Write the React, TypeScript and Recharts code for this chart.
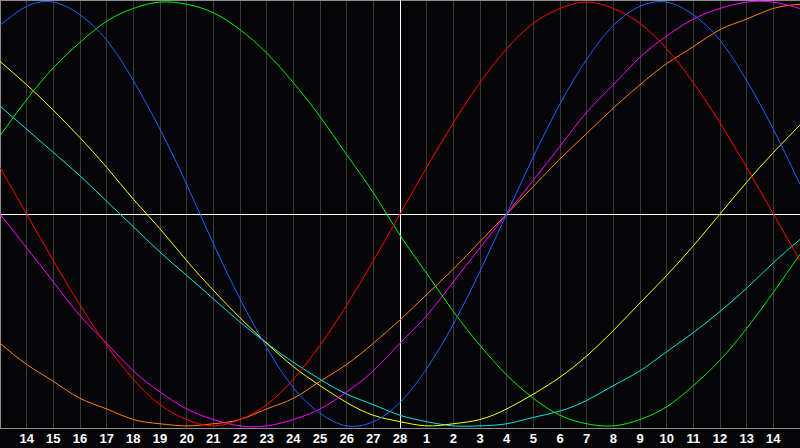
import { LineChart, Line, XAxis, YAxis, CartesianGrid, ReferenceLine } from 'recharts'

// one entry per day column, the first and last sit on the chart edges
const dayLabels = [
  '13', '14', '15', '16', '17', '18', '19', '20', '21', '22', '23', '24', '25', '26', '27', '28',
  '1', '2', '3', '4', '5', '6', '7', '8', '9', '10', '11', '12', '13', '14', '15',
]

// cycle values, -1..1
const physical = [
  0.89, 0.98, 1.0, 0.94, 0.82, 0.63, 0.4, 0.14, -0.14, -0.4, -0.63, -0.82, -0.94, -1.0, -0.98, -0.89,
  -0.73, -0.52, -0.27, 0, 0.27, 0.52, 0.73, 0.89, 0.98, 1.0, 0.94, 0.82, 0.63, 0.4, 0.14,
]
const emotional = [
  0.22, 0, -0.22, -0.43, -0.62, -0.78, -0.9, -0.97, -1.0, -0.97, -0.9, -0.78, -0.62, -0.43, -0.22, 0,
  0.22, 0.43, 0.62, 0.78, 0.9, 0.97, 1.0, 0.97, 0.9, 0.78, 0.62, 0.43, 0.22, 0, -0.22,
]
const intellectual = [
  0.37, 0.54, 0.69, 0.81, 0.91, 0.97, 1.0, 0.99, 0.95, 0.87, 0.76, 0.62, 0.46, 0.28, 0.1, -0.1,
  -0.28, -0.46, -0.62, -0.76, -0.87, -0.95, -0.99, -1.0, -0.97, -0.91, -0.81, -0.69, -0.54, -0.37, -0.19,
]
const intuitive = [
  0, -0.16, -0.32, -0.48, -0.61, -0.74, -0.84, -0.92, -0.97, -1.0, -1.0, -0.97, -0.92, -0.84, -0.74, -0.61,
  -0.48, -0.32, -0.16, 0, 0.16, 0.32, 0.48, 0.61, 0.74, 0.84, 0.92, 0.97, 1.0, 1.0, 0.97,
]
const aesthetic = [
  0.72, 0.61, 0.49, 0.36, 0.22, 0.07, -0.07, -0.22, -0.36, -0.49, -0.61, -0.72, -0.81, -0.89, -0.95, -0.98,
  -1.0, -0.99, -0.97, -0.92, -0.85, -0.77, -0.67, -0.55, -0.42, -0.29, -0.15, 0, 0.15, 0.29, 0.42,
]
const awareness = [
  -0.61, -0.71, -0.79, -0.87, -0.92, -0.97, -0.99, -1.0, -0.99, -0.97, -0.92, -0.87, -0.79, -0.71, -0.61, -0.5,
  -0.38, -0.26, -0.13, 0, 0.13, 0.26, 0.38, 0.5, 0.61, 0.71, 0.79, 0.87, 0.92, 0.97, 0.99,
]
const spiritual = [
  0.51, 0.4, 0.29, 0.18, 0.06, -0.06, -0.18, -0.29, -0.4, -0.51, -0.61, -0.7, -0.78, -0.85, -0.9, -0.95,
  -0.98, -1.0, -1.0, -0.99, -0.96, -0.93, -0.88, -0.81, -0.74, -0.65, -0.56, -0.46, -0.35, -0.23, -0.12,
]

const series = [
  { key: 'awareness', color: '#ff8000' },
  { key: 'spiritual', color: '#00e8e8' },
  { key: 'aesthetic', color: '#ffff00' },
  { key: 'intuitive', color: '#ff00ff' },
  { key: 'intellectual', color: '#00f000' },
  { key: 'emotional', color: '#ff0000' },
  { key: 'physical', color: '#1464ff' },
]

const data = dayLabels.map((day, i) => ({
  i,
  day,
  physical: physical[i],
  emotional: emotional[i],
  intellectual: intellectual[i],
  intuitive: intuitive[i],
  aesthetic: aesthetic[i],
  awareness: awareness[i],
  spiritual: spiritual[i],
}))

const ticks = data.slice(1, -1).map((d) => d.i)
const today = dayLabels.indexOf('28')

export default function App() {
  return (
    <div style={{ position: 'absolute', left: 0, top: 0, width: 800, height: 448, background: '#050507' }}>
      <LineChart width={800} height={448} data={data} margin={{ top: 0, right: 0, bottom: 0, left: 0 }}>
        <CartesianGrid horizontal={false} stroke="#3a3a3a" shapeRendering="crispEdges" />
        <XAxis
          type="number"
          dataKey="i"
          domain={[0, dayLabels.length - 1]}
          ticks={ticks}
          interval={0}
          tickFormatter={(v) => dayLabels[v]}
          height={20}
          tickLine={false}
          tickMargin={0}
          axisLine={{ stroke: '#8c8c8c', shapeRendering: 'crispEdges' }}
          tick={{ fill: '#ffffff', fontSize: 13, fontWeight: 'bold', fontFamily: 'Liberation Sans, Arial, sans-serif' }}
        />
        <YAxis hide domain={[-1.01, 1.01]} />
        <ReferenceLine x={0} stroke="#8c8c8c" strokeWidth={2} />
        <ReferenceLine y={1.01} stroke="#8c8c8c" strokeWidth={2} />
        <ReferenceLine x={today} stroke="#ffffff" shapeRendering="crispEdges" />
        <ReferenceLine y={0} stroke="#ffffff" shapeRendering="crispEdges" />
        {series.map((s) => (
          <Line
            key={s.key}
            type="natural"
            dataKey={s.key}
            stroke={s.color}
            strokeWidth={1}
            dot={false}
            activeDot={false}
            isAnimationActive={false}
          />
        ))}
      </LineChart>
    </div>
  )
}
